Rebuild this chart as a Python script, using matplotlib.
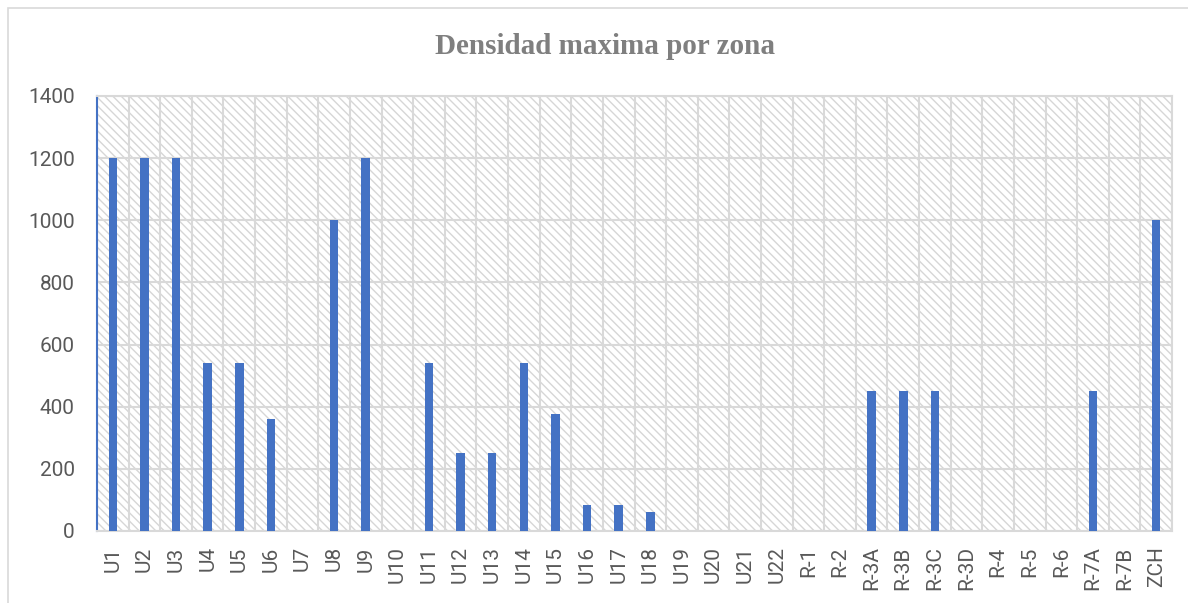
import matplotlib
matplotlib.use("Agg")
import matplotlib.pyplot as plt
from matplotlib.patches import Rectangle

categories = ["U1", "U2", "U3", "U4", "U5", "U6", "U7", "U8", "U9", "U10",
              "U11", "U12", "U13", "U14", "U15", "U16", "U17", "U18", "U19", "U20",
              "U21", "U22", "R-1", "R-2", "R-3A", "R-3B", "R-3C", "R-3D", "R-4", "R-5",
              "R-6", "R-7A", "R-7B", "ZCH"]
values = [1200, 1200, 1200, 540, 540, 360, 0, 1000, 1200, 0,
          540, 250, 250, 540, 375, 85, 85, 60, 0, 0,
          0, 0, 0, 0, 450, 450, 450, 0, 0, 0,
          0, 450, 0, 1000]
yticks = [0, 200, 400, 600, 800, 1000, 1200, 1400]
title = "Densidad maxima por zona"

W, H = 1188, 603
plt.rcParams["hatch.linewidth"] = 1.0
fig = plt.figure(figsize=(W / 100, H / 100), dpi=100)
fig.patch.set_facecolor("white")

grid_c = "#d9d9d9"
hatch_c = "#d6d6d6"
text_c = "#595959"

# outer chart border (left/top visible, extends beyond right/bottom)
fig.add_artist(Rectangle((8 / W, -0.1), 1.2, (1 - 8 / H) + 0.1, transform=fig.transFigure,
                         facecolor="none", edgecolor=grid_c, linewidth=1.2, zorder=0))

ax = fig.add_axes([97 / W, 1 - 531 / H, (1172 - 97) / W, (531 - 96) / H])
ax.patch.set_facecolor("white")
ax.patch.set_hatch("\\\\\\\\")
ax.patch.set_edgecolor(hatch_c)

x = list(range(len(categories)))
ax.bar(x, values, width=0.27, color="#4472C4", zorder=3)

ax.set_xlim(-0.5, len(categories) - 0.5)
ax.set_ylim(0, 1400)
ax.set_yticks(yticks)
ax.set_xticks(x)
ax.set_xticklabels(categories, rotation=90, fontsize=15, color=text_c, family="Roboto")
ax.set_yticklabels([str(v) for v in yticks], fontsize=15, color=text_c, family="Roboto")
ax.set_xticks([i - 0.5 for i in range(len(categories) + 1)], minor=True)
ax.tick_params(axis="both", which="both", length=0)
ax.tick_params(axis="y", pad=16)
ax.tick_params(axis="x", pad=11)

ax.set_axisbelow(True)
ax.grid(axis="y", which="major", color=grid_c, linewidth=1.5)
ax.grid(axis="x", which="minor", color=grid_c, linewidth=1.5)
ax.grid(axis="x", which="major", visible=False)

for s in ["top", "right", "bottom"]:
    ax.spines[s].set_color(grid_c)
    ax.spines[s].set_linewidth(1.5)
ax.spines["left"].set_color("#4472C4")
ax.spines["left"].set_linewidth(1.5)

fig.text(605 / W, 1 - 47 / H, title, ha="center", va="center", fontsize=21,
         fontweight="bold", color="#7f7f7f", family="Liberation Serif")

fig.savefig("out.png", dpi=100)
